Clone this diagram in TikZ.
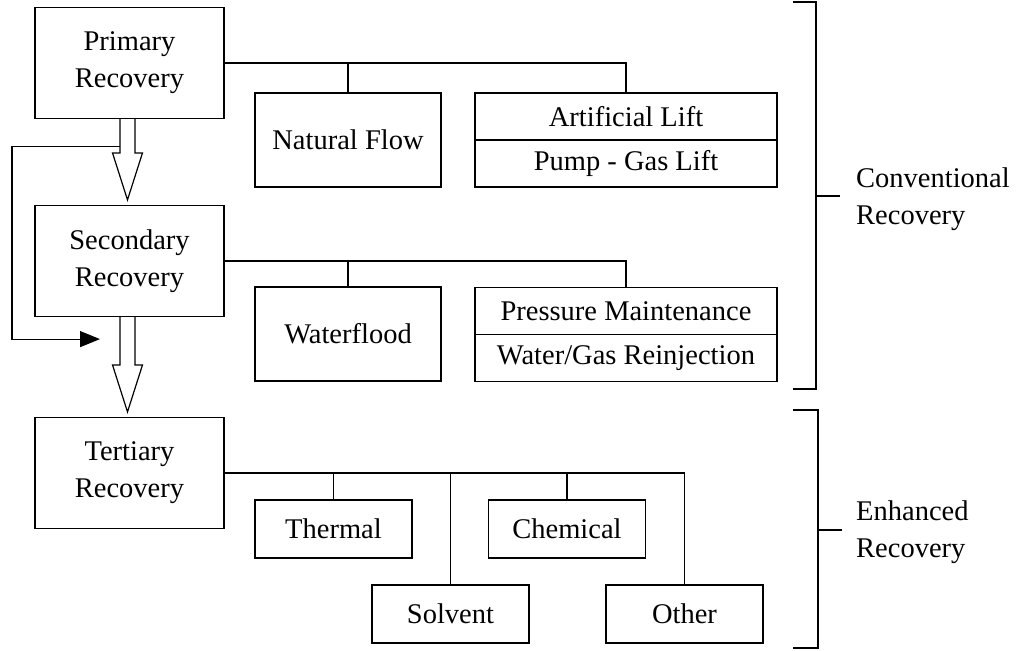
\documentclass[tikz,border=0pt]{standalone}
\usepackage{fontspec}
\setmainfont{Liberation Serif}
\usetikzlibrary{positioning,calc,arrows.meta}

\begin{document}
\begin{tikzpicture}[x=1pt, y=-1pt,
    every node/.style={font=\fontsize{28.5}{37}\selectfont, align=center, inner sep=0pt},
    stage/.style={draw, line width=1.2pt, minimum width=189pt, minimum height=111pt},
    method/.style={draw, line width=1.2pt, minimum width=186pt, minimum height=94pt},
    half/.style={draw, line width=1.2pt, minimum width=302pt, minimum height=47pt},
    small/.style={draw, line width=1.2pt, minimum width=157pt, minimum height=58pt},
    link/.style={line width=1.2pt}]
    \useasboundingbox (0,0) rectangle (1019,650);

    % Recovery stages
    \node[stage] (prim) at (129.5,63) {Primary\\Recovery};
    \node[stage] (sec) at (129.5,261) {Secondary\\Recovery};
    \node[stage] (ter) at (129.5,473) {Tertiary\\Recovery};

    % Conventional methods
    \node[method] (flow) at (348,140) {Natural Flow};
    \node[half] (lift) at (626,116.5) {Artificial Lift};
    \node[half, below=-1.2pt of lift] (pump) {Pump - Gas Lift};
    \node[method] (water) at (348,334) {Waterflood};
    \node[half] (press) at (626,311) {Pressure Maintenance};
    \node[half, below=-1.2pt of press] (reinj) {Water/Gas Reinjection};

    % Enhanced methods
    \node[small] (therm) at (333.5,529) {Thermal};
    \node[small] (chem) at (567,529) {Chemical};
    \node[small] (solv) at (450.5,614) {Solvent};
    \node[small] (other) at (684.5,614) {Other};

    % Draw connectors
    \draw[link] (prim.east) -- (prim.east -| lift.north) -- (lift.north);
    \draw[link] (flow.north) -- (flow.north |- prim.east);
    \draw[link] (sec.east) -- (sec.east -| press.north) -- (press.north);
    \draw[link] (water.north) -- (water.north |- sec.east);
    \draw[link] (ter.east) -- (ter.east -| other.north) -- (other.north);
    \foreach \m in {therm, solv, chem}
        \draw[link] (\m.north) -- (\m.north |- ter.east);

    % Hollow arrows between stages
    \foreach \a/\b in {prim/sec, sec/ter}
        \draw[link] ($(\a.south)+(-9.5,0)$) -- ($(\b.north)+(-9.5,-52)$) -- ($(\b.north)+(-17,-52)$)
            -- ($(\b.north)+(-2,-5)$) -- ($(\b.north)+(13,-52)$) -- ($(\b.north)+(5.5,-52)$) -- ($(\a.south)+(5.5,0)$);

    % Bypass line
    \coordinate (bypass) at ($(prim.south)+(-9.5,27)$);
    \coordinate (tip) at ($(sec.south)+(-29.5,22)$);
    \draw[link, -{Triangle[length=20pt,width=16pt]}] (bypass) -- ++(-108,0) |- (tip);

    % Brackets
    \node[anchor=west, align=left] (conv) at (856,199) {Conventional\\Recovery};
    \node[anchor=west, align=left] (enh) at (856,532) {Enhanced\\Recovery};
    \draw[link] (793,2) -- (816,2) -- (816,389) -- (793,389);
    \draw[link] (816,196) -- (840,196);
    \draw[link] (793,410) -- (818,410) -- (818,648) -- (793,648);
    \draw[link] (818,530) -- (842,530);

\end{tikzpicture}
\end{document}
